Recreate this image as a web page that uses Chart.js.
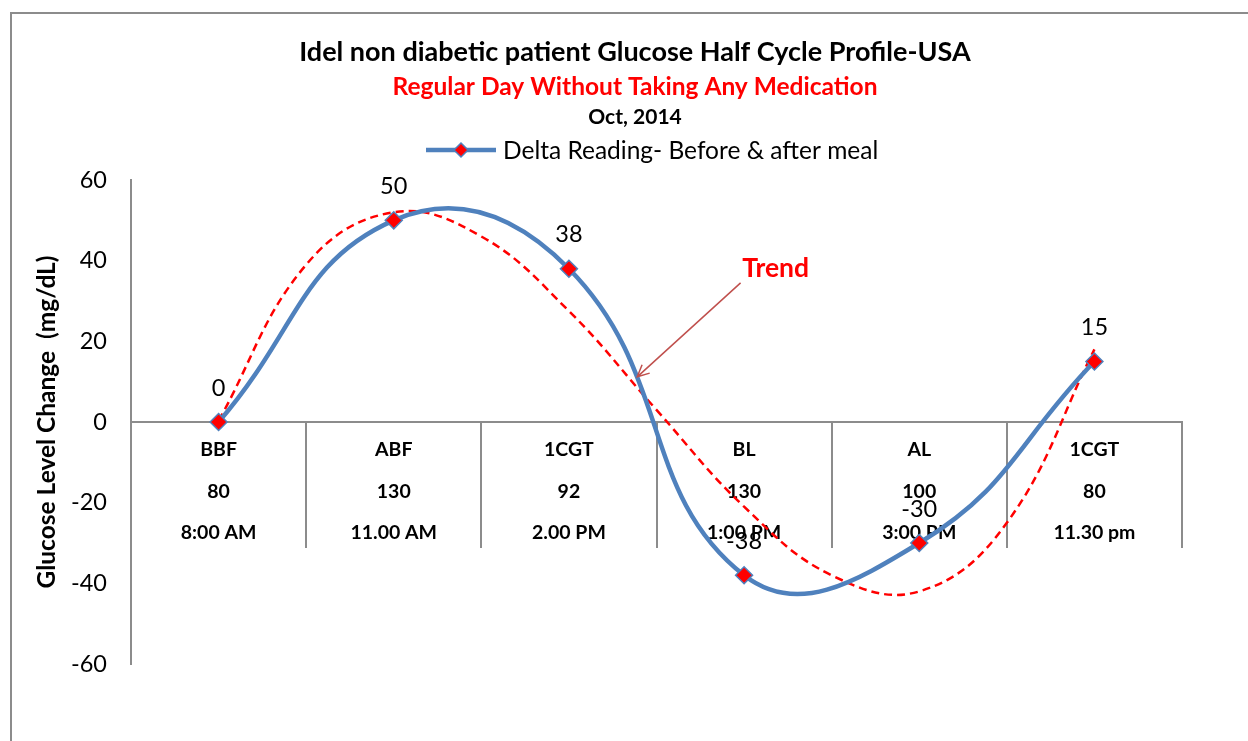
<!DOCTYPE html>
<html>
<head>
<meta charset="utf-8">
<script src="https://cdn.jsdelivr.net/npm/chart.js@4.4.1/dist/chart.umd.min.js"></script>
<style>
  html, body { margin: 0; background: #fff; }
  canvas { display: block; }
</style>
</head>
<body>
<canvas id="myChart" width="1248" height="741"></canvas>
<script>
// data
const categories = ['BBF', 'ABF', '1CGT', 'BL', 'AL', '1CGT'];
const readings = ['80', '130', '92', '130', '100', '80'];
const times = ['8:00 AM', '11.00 AM', '2.00 PM', '1:00 PM', '3:00 PM', '11.30 pm'];
const deltaValues = [0, 50, 38, -38, -30, 15];

// dashed trend curve, every half category
const trendX = [0, 0.5, 1, 1.5, 2, 2.5, 3, 3.5, 4, 4.5, 5];
const trendValues = [0.3, 39, 52, 46, 27.5, 3, -21, -38, -42, -25, 18];

const yMin = -60;
const yMax = 60;
const yStep = 20;

const titleText = 'Idel non diabetic patient Glucose Half Cycle Profile-USA';
const subtitleText = 'Regular Day Without Taking Any Medication';
const dateText = 'Oct, 2014';
const seriesName = 'Delta Reading- Before & after meal';
const yTitle = 'Glucose Level Change  (mg/dL)';

// "Trend" note, in data units
const trendNote = { text: 'Trend', x: 3.18, y: 38, tailX: 2.98, tailY: 34.5, tipX: 2.39, tipY: 11.2 };

const FONT = 'Lato, "Open Sans", sans-serif';
const BLUE = '#4F81BD';
const RED = '#FF0000';
const GREY = '#8c8c8c';

const catLabels = categories.map((c, i) => [c, readings[i], times[i]]);

function drawDiamond(ctx, x, y, r) {
    ctx.beginPath();
    ctx.moveTo(x, y - r);
    ctx.lineTo(x + r, y);
    ctx.lineTo(x, y + r);
    ctx.lineTo(x - r, y);
    ctx.closePath();
    ctx.fillStyle = RED;
    ctx.fill();
    ctx.lineWidth = 1.5;
    ctx.strokeStyle = BLUE;
    ctx.stroke();
}

const decorations = {
    id: 'decorations',
    beforeDraw(chart) {
        const ctx = chart.ctx;
        ctx.save();
        ctx.fillStyle = '#fff';
        ctx.fillRect(0, 0, chart.width, chart.height);
        // outer frame
        ctx.strokeStyle = GREY;
        ctx.lineWidth = 2;
        ctx.beginPath();
        ctx.moveTo(11, chart.height);
        ctx.lineTo(11, 13);
        ctx.lineTo(chart.width, 13);
        ctx.stroke();

        // titles
        ctx.textAlign = 'center';
        ctx.textBaseline = 'middle';
        ctx.fillStyle = '#000';
        ctx.font = 'bold 27px ' + FONT;
        ctx.fillText(titleText, 635, 52);
        ctx.fillStyle = RED;
        ctx.font = 'bold 24.5px ' + FONT;
        ctx.fillText(subtitleText, 635, 87);
        ctx.fillStyle = '#000';
        ctx.font = 'bold 21px ' + FONT;
        ctx.fillText(dateText, 635, 117);

        // legend
        ctx.strokeStyle = BLUE;
        ctx.lineWidth = 4.5;
        ctx.beginPath();
        ctx.moveTo(426, 150);
        ctx.lineTo(496, 150);
        ctx.stroke();
        drawDiamond(ctx, 461, 150, 7);
        ctx.fillStyle = '#000';
        ctx.textAlign = 'left';
        ctx.font = '24.5px ' + FONT;
        ctx.fillText(seriesName, 503, 151);
        ctx.restore();
    },
    afterDatasetsDraw(chart) {
        const ctx = chart.ctx;
        const xs = chart.scales.x;
        const ys = chart.scales.y;
        ctx.save();
        // value labels
        ctx.font = '23.5px ' + FONT;
        ctx.fillStyle = '#000';
        ctx.textAlign = 'center';
        ctx.textBaseline = 'middle';
        chart.getDatasetMeta(0).data.forEach((pt, i) => {
            ctx.fillText(String(deltaValues[i]), pt.x, pt.y - 34);
        });

        // trend note with arrow
        ctx.fillStyle = RED;
        ctx.font = 'bold 26.5px ' + FONT;
        ctx.fillText(trendNote.text, xs.getPixelForValue(trendNote.x), ys.getPixelForValue(trendNote.y));
        const x1 = xs.getPixelForValue(trendNote.tailX), y1 = ys.getPixelForValue(trendNote.tailY);
        const x2 = xs.getPixelForValue(trendNote.tipX), y2 = ys.getPixelForValue(trendNote.tipY);
        const ang = Math.atan2(y2 - y1, x2 - x1);
        ctx.strokeStyle = '#C0504D';
        ctx.lineWidth = 1.5;
        ctx.beginPath();
        ctx.moveTo(x1, y1);
        ctx.lineTo(x2, y2);
        ctx.moveTo(x2 - 13 * Math.cos(ang - 0.45), y2 - 13 * Math.sin(ang - 0.45));
        ctx.lineTo(x2, y2);
        ctx.lineTo(x2 - 13 * Math.cos(ang + 0.45), y2 - 13 * Math.sin(ang + 0.45));
        ctx.stroke();
        ctx.restore();
    }
};

new Chart(document.getElementById('myChart'), {
    type: 'line',
    data: {
        datasets: [{
            label: seriesName,
            data: deltaValues.map((v, i) => ({ x: i, y: v })),
            borderColor: BLUE,
            borderWidth: 4.5,
            tension: 0.45,
            pointStyle: 'rectRot',
            pointRadius: 8.5,
            pointBackgroundColor: RED,
            pointBorderColor: BLUE,
            pointBorderWidth: 1.5
        }, {
            label: 'Trend',
            data: trendX.map((x, i) => ({ x: x, y: trendValues[i] })),
            borderColor: RED,
            borderWidth: 2.5,
            borderDash: [8, 5],
            pointRadius: 0,
            tension: 0.4
        }]
    },
    options: {
        responsive: false,
        animation: false,
        devicePixelRatio: 1,
        layout: { padding: { top: 180, left: 0, right: 66, bottom: 77 } },
        plugins: {
            legend: { display: false },
            tooltip: { enabled: false }
        },
        scales: {
            x: {
                type: 'linear',
                min: -0.5,
                max: 5.5,
                display: false
            },
            cat: {
                type: 'category',
                axis: 'x',
                labels: catLabels,
                position: { y: 0 },
                offset: true,
                grid: { offset: true, drawOnChartArea: false, drawTicks: true, tickLength: 125, color: GREY, lineWidth: 2 },
                border: { display: true, color: GREY, width: 2 },
                ticks: {
                    autoSkip: false,
                    maxRotation: 0,
                    color: '#000',
                    padding: -118,
                    font: { family: FONT, size: 19.5, weight: 'bold', lineHeight: 41.5 / 19.5 }
                },
                afterFit(s) { s.height = 0; }
            },
            y: {
                type: 'linear',
                min: yMin,
                max: yMax,
                ticks: { stepSize: yStep, color: '#000', padding: 24, font: { family: FONT, size: 23.5 } },
                grid: { display: false, drawTicks: false },
                border: { display: true, color: GREY, width: 2 },
                title: {
                    display: true,
                    text: yTitle,
                    color: '#000',
                    font: { family: FONT, size: 24.5, weight: 'bold' },
                    padding: { top: 32, bottom: 0 }
                },
                afterFit(s) { s.width = 131; }
            }
        }
    },
    plugins: [decorations]
});
</script>
</body>
</html>
